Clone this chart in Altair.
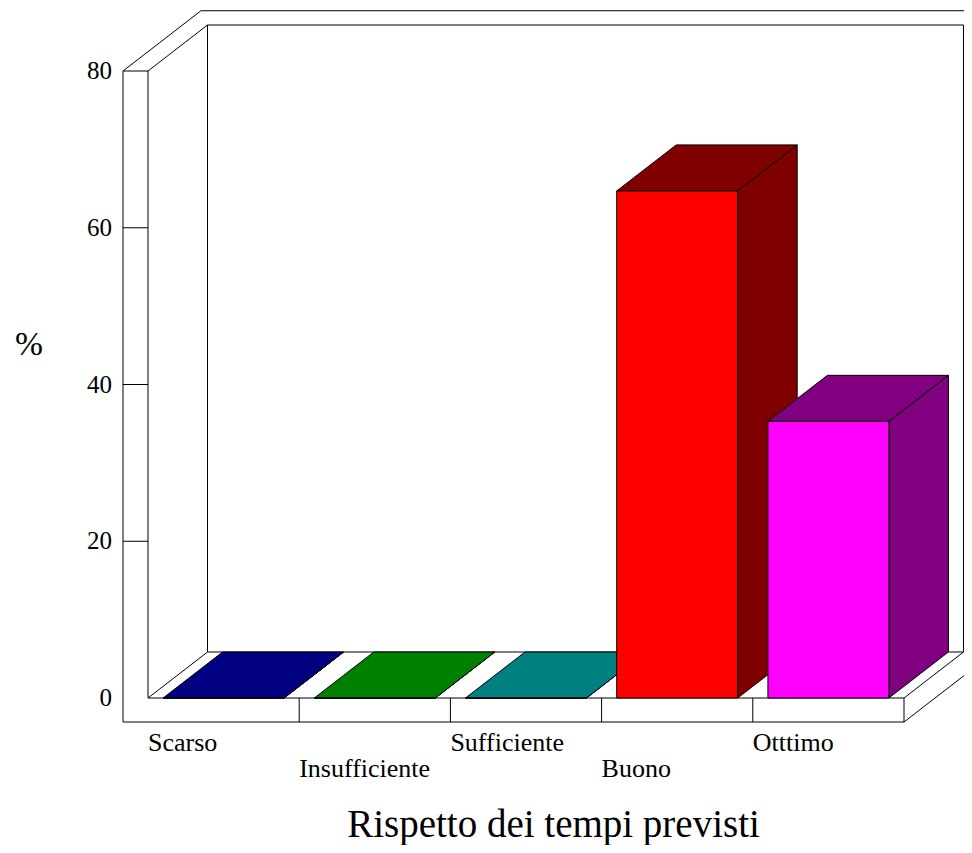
import altair as alt
import pandas as pd

categories = ["Scarso", "Insufficiente", "Sufficiente", "Buono", "Otttimo"]
values = [0, 0, 0, 64.7, 35.3]
front_colors = ["#0000ff", "#00ff00", "#00ffff", "#ff0000", "#ff00ff"]
dark_colors = ["#000080", "#008000", "#008080", "#800000", "#800080"]
y_ticks = [0, 20, 40, 60, 80]
label_rows = [0, 1, 0, 1, 0]

# Chart frame in data units: x = category slots, y = percent
W, H = 956, 837
PX_X = 151.2           # pixels per category
PX_Y = 7.8375          # pixels per percent
LEFT = -140 / PX_X     # x-domain start
RIGHT = LEFT + W / PX_X
TOP = 690 / PX_Y       # y-domain end
BOTTOM = TOP - H / PX_Y
N = len(categories)
Y_MAX = 80
DU = 59.5 / PX_X       # depth offset, x
DV = 46 / PX_Y         # depth offset, y
SLAB_U = 25 / PX_X     # outer slab on the left
SLAB_V = 24 / PX_Y     # outer slab below
BAR_PAD = 0.1

x_scale = alt.Scale(domain=[LEFT, RIGHT], range=[0, W], padding=0, nice=False, zero=False)
y_scale = alt.Scale(domain=[BOTTOM, TOP], range=[H, 0], padding=0, nice=False, zero=False)
X = alt.X("x:Q", scale=x_scale, axis=None, stack=None)
Y = alt.Y("y:Q", scale=y_scale, axis=None, stack=None)

# Frame lines
far = 1.31 * DU, 1.31 * DV
segments = [
    (-SLAB_U, Y_MAX, -SLAB_U, -SLAB_V),
    (-SLAB_U, -SLAB_V, N, -SLAB_V),
    (-SLAB_U, Y_MAX, 0, Y_MAX),
    (0, Y_MAX, 0, 0),
    (0, 0, N, 0),
    (N, 0, N, -SLAB_V),
    (0, Y_MAX, DU, Y_MAX + DV),
    (DU, Y_MAX + DV, DU, DV),
    (DU, Y_MAX + DV, N + DU, Y_MAX + DV),
    (N + DU, Y_MAX + DV, N + DU, DV),
    (DU, DV, N + DU, DV),
    (0, 0, DU, DV),
    (N, 0, N + DU, DV),
    (-SLAB_U, Y_MAX, -SLAB_U + far[0], Y_MAX + far[1]),
    (-SLAB_U + far[0], Y_MAX + far[1], RIGHT + 1, Y_MAX + far[1]),
    (N, -SLAB_V, N + 2 * far[0], -SLAB_V + 2 * far[1]),
]
segments += [(i, 0, i, -SLAB_V) for i in range(1, N)]
segments += [(-SLAB_U, t, 0, t) for t in y_ticks[1:-1]]
seg_df = pd.DataFrame(segments, columns=["x", "y", "x2", "y2"])

frame = alt.Chart(seg_df).mark_rule(color="#000000", strokeWidth=1, clip=True).encode(
    x=X, y=Y, x2="x2:Q", y2="y2:Q"
)

layers = [frame]
for i, (v, fc, dc) in enumerate(zip(values, front_colors, dark_colors)):
    x0, x1 = i + BAR_PAD, i + 1 - BAR_PAD
    side = pd.DataFrame({"x": [x1, x1 + DU], "y": [v, v + DV], "y2": [0, DV]})
    top = pd.DataFrame({"y": [v, v + DV], "x": [x0, x0 + DU], "x2": [x1, x1 + DU]})
    front = pd.DataFrame({"x": [x0], "x2": [x1], "y": [v], "y2": [0]})
    layers.append(
        alt.Chart(side).mark_area(color=dc, stroke="#000000", strokeWidth=1, orient="vertical")
        .encode(x=X, y=Y, y2="y2:Q")
    )
    layers.append(
        alt.Chart(top).mark_area(color=dc, stroke="#000000", strokeWidth=1, orient="horizontal")
        .encode(x=X, y=Y, x2="x2:Q")
    )
    layers.append(
        alt.Chart(front).mark_rect(color=fc, stroke="#000000", strokeWidth=1)
        .encode(x=X, y=Y, x2="x2:Q", y2="y2:Q")
    )

FONT = "Liberation Serif"
tick_df = pd.DataFrame({"x": [-36 / PX_X] * len(y_ticks), "y": y_ticks, "t": [str(t) for t in y_ticks]})
layers.append(
    alt.Chart(tick_df).mark_text(font=FONT, fontSize=25, align="right", baseline="middle", color="#000000")
    .encode(x=X, y=Y, text="t:N")
)
cat_df = pd.DataFrame({
    "x": list(range(N)),
    "y": [-(53 + 25.7 * r) / PX_Y for r in label_rows],
    "t": categories,
})
layers.append(
    alt.Chart(cat_df).mark_text(font=FONT, fontSize=26, align="left", baseline="alphabetic", color="#000000")
    .encode(x=X, y=Y, text="t:N")
)
layers.append(
    alt.Chart(pd.DataFrame({"x": [(553.5 - 148) / PX_X], "y": [-138.5 / PX_Y], "t": ["Rispetto dei tempi previsti"]}))
    .mark_text(font=FONT, fontSize=39, align="center", baseline="alphabetic", color="#000000")
    .encode(x=X, y=Y, text="t:N")
)
layers.append(
    alt.Chart(pd.DataFrame({"x": [(29 - 148) / PX_X], "y": [(698 - 345) / PX_Y], "t": ["%"]}))
    .mark_text(font=FONT, fontSize=33.5, align="center", baseline="middle", color="#000000")
    .encode(x=X, y=Y, text="t:N")
)

chart = (
    alt.layer(*layers)
    .properties(width=W, height=H, padding=0, autosize=alt.AutoSizeParams(type="none"), background="#ffffff")
    .configure_view(stroke=None)
)
chart.save("out.html", embed_options={"renderer": "svg", "actions": False})
